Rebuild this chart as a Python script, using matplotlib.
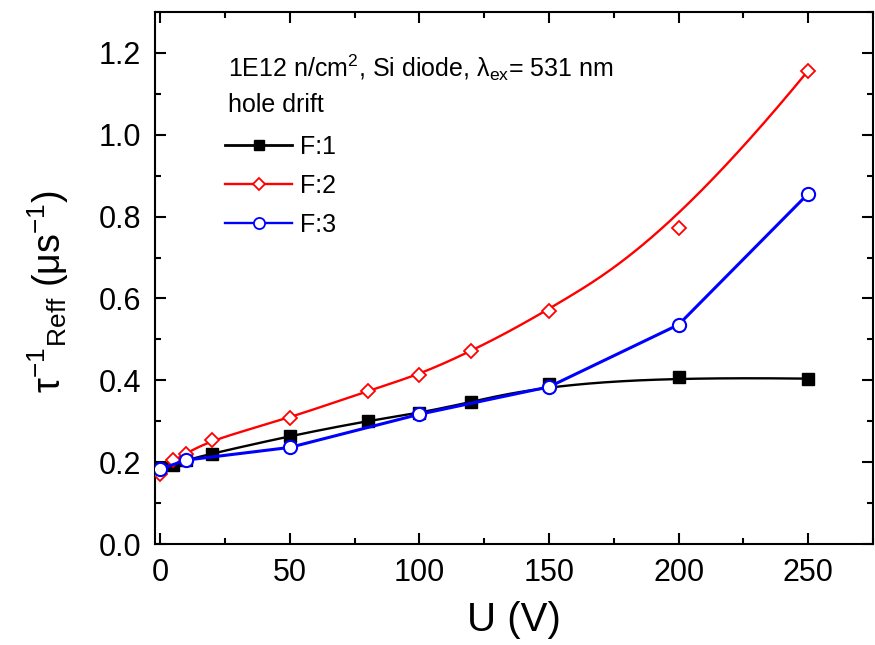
import numpy as np
import matplotlib
matplotlib.use('Agg')
import matplotlib.pyplot as plt
from matplotlib.ticker import MultipleLocator, FormatStrFormatter

# Measured inverse effective trapping time vs. bias voltage
u_f1 = [0, 5, 10, 20, 50, 80, 100, 120, 150, 200, 250]
tau_f1 = [0.185, 0.193, 0.205, 0.221, 0.264, 0.301, 0.320, 0.347, 0.390, 0.408, 0.404]

u_f2 = [0, 5, 10, 20, 50, 80, 100, 120, 150, 200, 250]
tau_f2 = [0.170, 0.205, 0.221, 0.255, 0.308, 0.374, 0.414, 0.471, 0.569, 0.771, 1.157]

u_f3 = [0, 10, 50, 100, 150, 200, 250]
tau_f3 = [0.183, 0.205, 0.236, 0.317, 0.384, 0.536, 0.856]


def bspline(xs, ys, k=3, n=400):
    """Clamped cubic B-spline using the data points as control points."""
    pts = np.column_stack([xs, ys])
    m = len(pts)
    knots = np.concatenate([np.zeros(k), np.linspace(0, 1, m - k + 1), np.ones(k)])
    t = np.linspace(0, 1 - 1e-9, n)
    N = np.array([((knots[i] <= t) & (t < knots[i + 1])).astype(float)
                  for i in range(len(knots) - 1)])
    for d in range(1, k + 1):
        Nn = np.zeros((len(knots) - 1 - d, n))
        for i in range(len(knots) - 1 - d):
            a = knots[i + d] - knots[i]
            b = knots[i + d + 1] - knots[i + 1]
            if a > 0:
                Nn[i] += (t - knots[i]) / a * N[i]
            if b > 0:
                Nn[i] += (knots[i + d + 1] - t) / b * N[i + 1]
        N = Nn
    curve = N.T @ pts
    return curve[:, 0], curve[:, 1]


plt.rcParams['font.family'] = 'Liberation Sans'
plt.rcParams['mathtext.fontset'] = 'custom'
plt.rcParams['mathtext.rm'] = 'Liberation Sans'
plt.rcParams['mathtext.it'] = 'Liberation Sans:italic'
plt.rcParams['axes.linewidth'] = 1.5

fig, ax = plt.subplots(figsize=(8.75, 6.45), dpi=100)
fig.subplots_adjust(left=155 / 875, right=873 / 875, top=1 - 12 / 645, bottom=1 - 544 / 645)

# F:1 - smoothed curve
sx, sy = bspline(u_f1, tau_f1)
ax.plot(sx, sy, color='black', lw=1.7, zorder=2)
ax.plot(u_f1, tau_f1, ls='none', marker='s', ms=8.5, color='black', zorder=3)

# F:2 - smoothed curve
sx, sy = bspline(u_f2, tau_f2)
ax.plot(sx, sy, color='red', lw=1.7, zorder=4)
ax.plot(u_f2, tau_f2, ls='none', marker='D', ms=7.5, mfc='white', mec='red', mew=1.3, zorder=5)

# F:3 - straight segments
ax.plot(u_f3, tau_f3, color='blue', lw=2.2, marker='o', ms=9.5, mfc='white', mec='blue', mew=1.5, zorder=6)

# legend handles
h1, = ax.plot([], [], color='black', lw=2.0, marker='s', ms=7)
h2, = ax.plot([], [], color='red', lw=1.7, marker='D', ms=6.5, mfc='white', mec='red', mew=1.3)
h3, = ax.plot([], [], color='blue', lw=1.7, marker='o', ms=8, mfc='white', mec='blue', mew=1.3)
ax.legend([h1, h2, h3], ['F:1', 'F:2', 'F:3'], loc='upper left',
          bbox_to_anchor=(0.08, 0.793), frameon=False, fontsize=18,
          handlelength=2.7, handletextpad=0.3, labelspacing=0.6, borderpad=0)

ax.text(0.102, 0.895, r'1E12 n/cm$^{2}$, Si diode, λ$_{\mathrm{ex}}$= 531 nm',
        transform=ax.transAxes, fontsize=18, va='center', ha='left')
ax.text(0.102, 0.825, 'hole drift', transform=ax.transAxes, fontsize=18, va='center', ha='left')

ax.set_xlim(-2, 275)
ax.set_ylim(0, 1.3)
ax.xaxis.set_major_locator(MultipleLocator(50))
ax.xaxis.set_minor_locator(MultipleLocator(25))
ax.yaxis.set_major_locator(MultipleLocator(0.2))
ax.yaxis.set_minor_locator(MultipleLocator(0.1))
ax.yaxis.set_major_formatter(FormatStrFormatter('%.1f'))
ax.tick_params(which='both', direction='in', top=True, right=True, width=1.5, labelsize=22)
ax.tick_params(which='major', length=8)
ax.tick_params(axis='x', pad=10)
ax.tick_params(axis='y', pad=10)
ax.tick_params(which='minor', length=4.5)

ax.set_xlabel('U (V)', fontsize=29)
ax.xaxis.set_label_coords(0.5, -0.108)
ax.set_ylabel(r'τ$^{-1}$$_{\mathrm{Reff}}$ (μs$^{-1}$)', fontsize=27)
ax.yaxis.set_label_coords(-0.117, 0.475)

fig.savefig('out.png', dpi=100)
